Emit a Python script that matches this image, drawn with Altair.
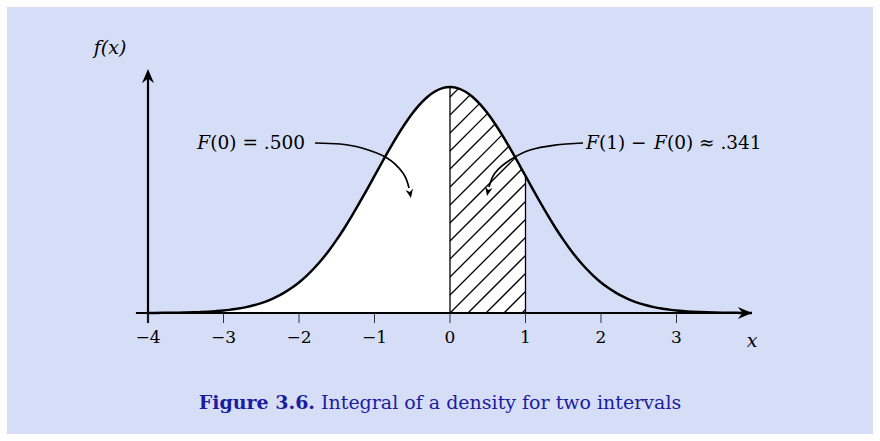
import altair as alt
import numpy as np
import pandas as pd

# Standard normal density f(x), tabulated on a 0.1 grid from -4 to 4
X_GRID = [round(-4 + 0.1 * i, 1) for i in range(81)]
DENSITY = [
    0.0001, 0.0002, 0.0003, 0.0004, 0.0006, 0.0009, 0.0012, 0.0017, 0.0024, 0.0033,
    0.0044, 0.0060, 0.0079, 0.0104, 0.0136, 0.0175, 0.0224, 0.0283, 0.0355, 0.0440,
    0.0540, 0.0656, 0.0790, 0.0940, 0.1109, 0.1295, 0.1497, 0.1714, 0.1942, 0.2179,
    0.2420, 0.2661, 0.2897, 0.3123, 0.3332, 0.3521, 0.3683, 0.3814, 0.3910, 0.3970,
    0.3989,
    0.3970, 0.3910, 0.3814, 0.3683, 0.3521, 0.3332, 0.3123, 0.2897, 0.2661, 0.2420,
    0.2179, 0.1942, 0.1714, 0.1497, 0.1295, 0.1109, 0.0940, 0.0790, 0.0656, 0.0540,
    0.0440, 0.0355, 0.0283, 0.0224, 0.0175, 0.0136, 0.0104, 0.0079, 0.0060, 0.0044,
    0.0033, 0.0024, 0.0017, 0.0012, 0.0009, 0.0006, 0.0004, 0.0003, 0.0002, 0.0001,
]

TICK_VALUES = [-4, -3, -2, -1, 0, 1, 2, 3]
TICK_LABELS = ["\u22124", "\u22123", "\u22122", "\u22121", "0", "1", "2", "3"]

# Shaded interval [0, 1]; the density is white up to its right end
INTERVAL = (0.0, 1.0)

# Annotation pieces: italic "F" and upright remainder, anchored in data units
NOTE_TEXT = ["F", "(0) = .500", "F", "(1) \u2212", "F", "(0) \u2248 .341"]
NOTE_X = [-3.179, -1.9205, 1.801, 1.974, 2.702, 2.874]
NOTE_ALIGN = ["right", "right", "left", "left", "left", "left"]
NOTE_ITALIC = [True, False, True, False, True, False]
NOTE_Y = 0.3001

# Leader curves from each label to its region
LEADER_LEFT_X = [-1.788, -1.457, -1.166, -0.834, -0.623, -0.543]
LEADER_LEFT_Y = [0.3001, 0.2983, 0.2912, 0.2736, 0.2471, 0.2206]
LEADER_RIGHT_X = [1.762, 1.391, 1.060, 0.795, 0.596, 0.517]
LEADER_RIGHT_Y = [0.3001, 0.2965, 0.2877, 0.2700, 0.2471, 0.2224]

BG = "#d5def6"
INK = "#000000"
CAPTION_BLUE = "#1c1ca0"
FONT = "DejaVu Serif"

XS = alt.Scale(domain=[-5.9603, 5.6954], nice=False, zero=False)
YS = alt.Scale(domain=[-0.2259, 0.5525], nice=False, zero=False)


def X(field):
    return alt.X(field, type="quantitative", scale=XS, axis=None)


def Y(field):
    return alt.Y(field, type="quantitative", scale=YS, axis=None)


curve = pd.DataFrame({"x": X_GRID, "f": DENSITY})
curve["zero"] = 0.0
lo, hi = INTERVAL
f_lo = float(np.interp(lo, X_GRID, DENSITY))
f_hi = float(np.interp(hi, X_GRID, DENSITY))

# 45-degree hatch lines inside the interval, clipped to the density
pix_x = 880 / (XS.domain[1] - XS.domain[0])
pix_y = 441 / (YS.domain[1] - YS.domain[0])
slope = pix_x / pix_y
spacing = 18 / pix_x
rows = []
fine = np.linspace(lo, hi, 4001)
f_fine = np.interp(fine, X_GRID, DENSITY)
for j in range(-14, 6):
    c = lo + j * spacing
    if c >= hi:
        continue
    x0 = max(lo, c)
    y0 = slope * (x0 - c)
    if y0 >= np.interp(x0, X_GRID, DENSITY):
        continue
    line = slope * (fine - c)
    mask = (fine >= x0) & (line >= f_fine)
    x1 = float(fine[mask][0]) if mask.any() else hi
    rows.append({"x": float(x0), "y": float(y0), "x2": x1, "y2": float(slope * (x1 - c))})
hatch = pd.DataFrame(rows)

background = alt.Chart(pd.DataFrame({"a": [0]})).mark_rect(color=BG).encode(
    x=alt.value(7), x2=alt.value(873), y=alt.value(7), y2=alt.value(434)
)

white_area = alt.Chart(curve[curve["x"] <= hi + 1e-9]).mark_area(
    color="white", interpolate="monotone"
).encode(x=X("x"), y=Y("f"), y2="zero")

hatch_layer = alt.Chart(hatch).mark_rule(color=INK, strokeWidth=1.3).encode(
    x=X("x"), y=Y("y"), x2="x2", y2="y2"
)

edges = alt.Chart(
    pd.DataFrame({"x": [lo, hi], "f": [f_lo, f_hi], "zero": [0.0, 0.0]})
).mark_rule(color=INK, strokeWidth=1.3).encode(x=X("x"), y=Y("f"), y2="zero")

density_line = alt.Chart(curve).mark_line(
    color=INK, strokeWidth=2.5, interpolate="monotone"
).encode(x=X("x"), y=Y("f"))

x_axis = alt.Chart(pd.DataFrame({"x": [-4.16], "x2": [3.93], "y": [0.0]})).mark_rule(
    color=INK, strokeWidth=2.2
).encode(x=X("x"), x2="x2", y=Y("y"))

y_axis = alt.Chart(pd.DataFrame({"x": [-4.0], "y": [-0.0177], "y2": [0.415]})).mark_rule(
    color=INK, strokeWidth=2.2
).encode(x=X("x"), y=Y("y"), y2="y2")

tick_df = pd.DataFrame({
    "x": TICK_VALUES,
    "label": TICK_LABELS,
    "top": [0.0] * len(TICK_VALUES),
    "bottom": [-0.0177] * len(TICK_VALUES),
    "ly": [-0.0441] * len(TICK_VALUES),
})

ticks = alt.Chart(tick_df).mark_rule(color="#333333", strokeWidth=1).encode(
    x=X("x"), y=Y("top"), y2="bottom"
)

tick_labels = alt.Chart(tick_df).mark_text(
    font=FONT, fontSize=17, color=INK, baseline="middle"
).encode(x=X("x"), y=Y("ly"), text="label:N")

ARROW = "M0,0 L-2,-0.85 L-1.35,0 L-2,0.85 Z"
heads = pd.DataFrame({
    "x": [4.0, -4.0, -0.517, 0.490],
    "y": [0.0, 0.4307, 0.2030, 0.2065],
    "angle": [0, 270, 79, 102],
    "size": [200, 200, 80, 80],
})
arrow_heads = alt.Chart(heads).mark_point(
    shape=ARROW, filled=True, color=INK, opacity=1
).encode(
    x=X("x"), y=Y("y"),
    angle=alt.Angle("angle:Q", scale=None),
    size=alt.Size("size:Q", scale=None),
)

leaders = pd.DataFrame({
    "x": LEADER_LEFT_X + LEADER_RIGHT_X,
    "y": LEADER_LEFT_Y + LEADER_RIGHT_Y,
    "k": list(range(len(LEADER_LEFT_X))) + list(range(len(LEADER_RIGHT_X))),
    "g": ["left"] * len(LEADER_LEFT_X) + ["right"] * len(LEADER_RIGHT_X),
})
leader_lines = alt.Chart(leaders).mark_line(
    color=INK, strokeWidth=1.7, interpolate="cardinal"
).encode(x=X("x"), y=Y("y"), detail="g:N", order="k:Q")

notes = pd.DataFrame({
    "x": NOTE_X, "y": [NOTE_Y] * len(NOTE_X), "t": NOTE_TEXT,
    "align": NOTE_ALIGN, "italic": NOTE_ITALIC,
})
note_layers = []
for align in ["left", "right"]:
    for italic in [True, False]:
        sub = notes[(notes["align"] == align) & (notes["italic"] == italic)]
        if sub.empty:
            continue
        note_layers.append(
            alt.Chart(sub).mark_text(
                font=FONT, fontSize=18.5, color=INK, align=align, baseline="middle",
                fontStyle="italic" if italic else "normal",
            ).encode(x=X("x"), y=Y("y"), text="t:N")
        )

axis_titles = alt.Chart(pd.DataFrame({
    "x": [4.0, -4.503], "y": [-0.0494, 0.4677], "t": ["x", "f(x)"]
})).mark_text(
    font=FONT, fontSize=19, fontStyle="italic", color=INK, baseline="middle"
).encode(x=X("x"), y=Y("y"), text="t:N")

caption_bold = alt.Chart(pd.DataFrame({"a": [0]})).mark_text(
    text="Figure 3.6.", font=FONT, fontSize=19, fontWeight="bold",
    color=CAPTION_BLUE, align="right", baseline="middle"
).encode(x=alt.value(315), y=alt.value(403))

caption_text = alt.Chart(pd.DataFrame({"a": [0]})).mark_text(
    text="Integral of a density for two intervals", font=FONT, fontSize=19,
    color=CAPTION_BLUE, align="left", baseline="middle"
).encode(x=alt.value(321), y=alt.value(403))

chart = alt.layer(
    background, white_area, hatch_layer, edges, density_line,
    x_axis, y_axis, ticks, tick_labels, arrow_heads, leader_lines,
    *note_layers, axis_titles, caption_bold, caption_text,
).properties(
    width=880, height=441, padding=0, background="white",
    autosize=alt.AutoSizeParams(type="none"),
).configure_view(stroke=None)

chart.save("out.html", embed_options={"renderer": "svg", "actions": False})
